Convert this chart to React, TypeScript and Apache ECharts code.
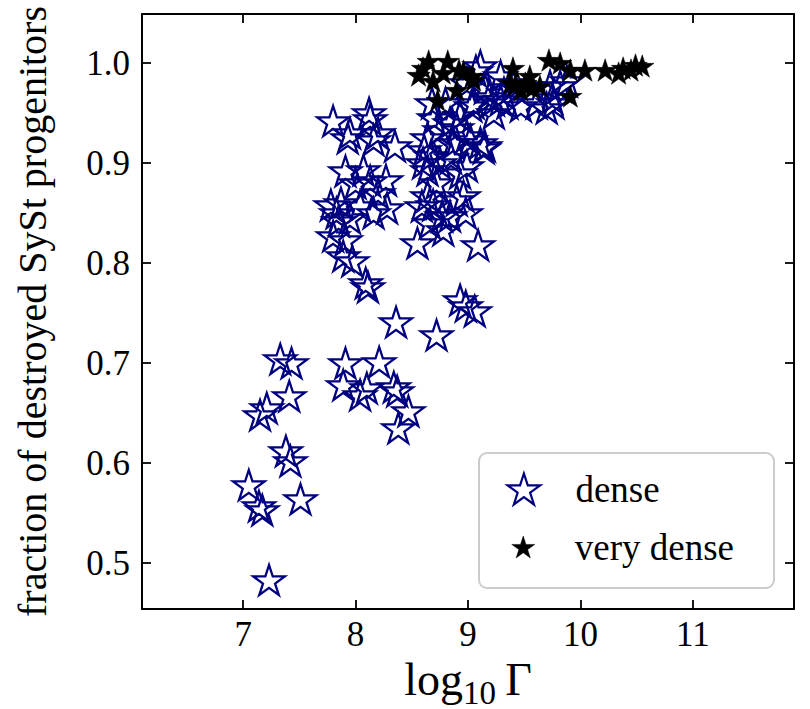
import React, { useEffect, useRef } from "react";
import * as echarts from "echarts";

const denseGamma = [
  7.23, 7.05, 7.14, 7.17, 7.51, 7.38, 7.42, 7.33, 7.43, 7.41, 7.21, 7.15,
  7.91, 8.21, 7.89, 8.04, 8.10, 8.34, 8.37, 8.47, 8.38, 8.36, 8.72, 8.93, 8.98, 9.06,
  7.80, 8.12, 8.13, 7.95, 7.93, 8.16, 8.35, 8.20, 7.91, 8.07, 8.27, 8.13, 7.78, 7.87,
  8.04, 8.28, 8.16, 7.85, 7.80, 7.91, 7.89, 7.97, 8.09, 8.11, 7.95, 8.00, 8.20, 7.83,
  8.55, 9.09, 8.64, 8.61, 8.67, 8.64, 8.60, 8.64, 8.69, 8.59, 8.77, 8.84, 8.78, 8.90,
  8.93, 8.99, 9.11, 9.14, 8.99, 8.84, 8.75, 8.93, 8.87, 9.05, 9.23, 9.29, 8.98, 8.96,
  9.15, 9.02, 8.70, 8.68, 8.80, 8.85, 8.72, 8.66, 8.75, 8.90,
  9.03, 9.23, 9.47, 9.70, 9.76, 9.82, 9.61, 9.29, 9.11, 8.99, 9.15, 9.19, 9.32, 9.73,
  9.88, 9.07, 9.35, 9.75, 9.40,
];
const denseFraction = [
  0.483, 0.578, 0.557, 0.553, 0.564, 0.612, 0.602, 0.704, 0.700, 0.667, 0.655, 0.648,
  0.700, 0.701, 0.678, 0.668, 0.675, 0.676, 0.672, 0.652, 0.635, 0.741, 0.728, 0.763, 0.757, 0.752,
  0.942, 0.950, 0.944, 0.930, 0.925, 0.923, 0.917, 0.930, 0.892, 0.893, 0.883, 0.882, 0.858, 0.860,
  0.857, 0.855, 0.850, 0.842, 0.827, 0.823, 0.807, 0.802, 0.780, 0.776, 0.845, 0.880, 0.870, 0.850,
  0.820, 0.818, 0.925, 0.913, 0.907, 0.893, 0.900, 0.867, 0.858, 0.857, 0.847, 0.847, 0.833, 0.863,
  0.890, 0.897, 0.920, 0.915, 0.927, 0.940, 0.933, 0.947, 0.920, 0.960, 0.950, 0.963, 0.850, 0.867,
  0.917, 0.923, 0.945, 0.960, 0.960, 0.905, 0.880, 0.840, 0.900, 0.935,
  0.957, 0.963, 0.957, 0.955, 0.960, 0.977, 0.960, 0.987, 0.997, 0.980, 0.975, 0.966, 0.970, 0.977,
  0.982, 0.992, 0.960, 0.965, 0.980,
];
const veryDenseGamma = [
  8.56, 8.65, 8.82, 8.69, 8.92, 8.73, 8.90, 9.04, 8.96, 9.05, 8.60, 8.78,
  9.40, 9.38, 9.42, 9.47, 9.51, 9.55, 9.57, 9.64, 9.53, 9.72, 9.82, 9.91, 9.91,
  10.04, 10.22, 10.38, 10.45, 10.49, 10.55, 10.34,
];
const veryDenseFraction = [
  0.988, 1.002, 1.002, 0.982, 0.993, 0.963, 0.973, 0.987, 0.992, 0.983, 0.995, 0.990,
  0.995, 0.980, 0.978, 0.973, 0.980, 0.987, 0.975, 0.977, 0.977, 1.003, 1.000, 0.993, 0.967,
  0.993, 0.993, 0.995, 0.993, 0.998, 0.997, 0.990,
];
const xTicks = [7, 8, 9, 10, 11];
const yTicks = [0.5, 0.6, 0.7, 0.8, 0.9, 1.0];

const FONT = "'Liberation Serif', 'DejaVu Serif', serif";
const NAVY = "#000080";

// matplotlib '*' marker outline (5 points, inner radius 0.381966)
const starPath = (() => {
  let d = "";
  for (let k = 0; k < 10; k++) {
    const r = k % 2 === 0 ? 50 : 50 * 0.381966;
    const a = -Math.PI / 2 + (k * Math.PI) / 5;
    d += (k === 0 ? "M" : "L") + (r * Math.cos(a)).toFixed(3) + " " + (r * Math.sin(a)).toFixed(3) + " ";
  }
  return "path://" + d + "Z";
})();

const axisCommon = {
  type: "value" as const,
  axisLine: { show: true, onZero: false, lineStyle: { color: "#000", width: 2 } },
  splitLine: { show: false },
};

export default function App() {
  const ref = useRef<HTMLDivElement>(null);
  useEffect(() => {
    if (!ref.current) return;
    const chart = echarts.init(ref.current, undefined, { renderer: "svg" });
    const densePts = denseGamma.map((g, i) => [g, denseFraction[i]]);
    const veryPts = veryDenseGamma.map((g, i) => [g, veryDenseFraction[i]]);
    const xTickStyle = { show: true, inside: true, length: 9, lineStyle: { color: "#000", width: 1.8 }, customValues: xTicks };
    const yTickStyle = { show: true, inside: true, length: 9, lineStyle: { color: "#000", width: 1.8 }, customValues: yTicks };
    chart.setOption({
      animation: false,
      backgroundColor: "#fff",
      grid: { left: 142, top: 14, width: 652, height: 595, containLabel: false, outerBoundsMode: "none" },
      xAxis: [
        {
          ...axisCommon,
          position: "bottom",
          min: 6.1,
          max: 11.9,
          axisTick: xTickStyle,
          axisLabel: { show: true, customValues: xTicks, fontSize: 35, fontFamily: FONT, color: "#000", margin: 8 },
          name: "{a|log}{b|10}{a|\u2009\u0393}",
          nameLocation: "middle",
          nameGap: 42,
          nameTextStyle: {
            color: "#000",
            fontFamily: FONT,
            fontSize: 46,
            rich: {
              a: { fontSize: 46, fontFamily: FONT, color: "#000", lineHeight: 50, verticalAlign: "top" },
              b: {
                fontSize: 33,
                fontFamily: FONT,
                color: "#000",
                lineHeight: 22,
                verticalAlign: "top",
                padding: [20, 0, 0, 0],
              },
            },
          },
        },
        {
          ...axisCommon,
          position: "top",
          min: 6.1,
          max: 11.9,
          axisTick: xTickStyle,
          axisLabel: { show: false },
        },
      ],
      yAxis: [
        {
          ...axisCommon,
          position: "left",
          min: 0.454,
          max: 1.049,
          axisTick: yTickStyle,
          axisLabel: {
            show: true,
            customValues: yTicks,
            fontSize: 35,
            fontFamily: FONT,
            color: "#000",
            margin: 12,
            formatter: (v: number) => v.toFixed(1),
          },
          name: "fraction of destroyed SySt progenitors",
          nameLocation: "middle",
          nameGap: 88,
          nameTextStyle: { color: "#000", fontFamily: FONT, fontSize: 40, lineHeight: 44 },
        },
        {
          ...axisCommon,
          position: "right",
          min: 0.454,
          max: 1.049,
          axisTick: yTickStyle,
          axisLabel: { show: false },
        },
      ],
      graphic: [
        {
          type: "rect",
          z: 3,
          shape: { x: 479, y: 453, width: 295, height: 135, r: 8 },
          style: { fill: "rgba(255,255,255,0.8)", stroke: "#cccccc", lineWidth: 2 },
        },
      ],
      legend: [
        {
          left: 506.5,
          top: 465,
          padding: 0,
          itemWidth: 33,
          itemHeight: 31,
          selectedMode: false,
          data: [
            { name: "dense", itemStyle: { color: "rgba(0,0,0,0)", borderColor: NAVY, borderWidth: 2.2 } },
          ],
          textStyle: { fontFamily: FONT, fontSize: 37, color: "#000", lineHeight: 40, padding: [8, 0, 0, 30] },
        },
        {
          left: 511.5,
          top: 523,
          padding: 0,
          itemWidth: 23,
          itemHeight: 22,
          selectedMode: false,
          data: [{ name: "very dense", itemStyle: { color: "#000", borderColor: "#000", borderWidth: 0.5 } }],
          textStyle: { fontFamily: FONT, fontSize: 37, color: "#000", lineHeight: 40, padding: [8, 0, 0, 35] },
        },
      ],
      series: [
        {
          name: "dense",
          type: "scatter",
          xAxisIndex: 0,
          yAxisIndex: 0,
          symbol: starPath,
          symbolSize: [31.6, 30],
          itemStyle: { color: "rgba(0,0,0,0)", borderColor: NAVY, borderWidth: 2.3, opacity: 1 },
          emphasis: { disabled: true },
          data: densePts,
          z: 2,
        },
        {
          name: "very dense",
          type: "scatter",
          xAxisIndex: 0,
          yAxisIndex: 0,
          symbol: starPath,
          symbolSize: [23.5, 22.4],
          itemStyle: { color: "#000", borderColor: "#000", borderWidth: 0.5, opacity: 1 },
          emphasis: { disabled: true },
          data: veryPts,
          z: 2,
        },
      ],
    });
    return () => chart.dispose();
  }, []);
  return <div ref={ref} style={{ position: "absolute", left: 0, top: 0, width: 810, height: 709 }} />;
}
